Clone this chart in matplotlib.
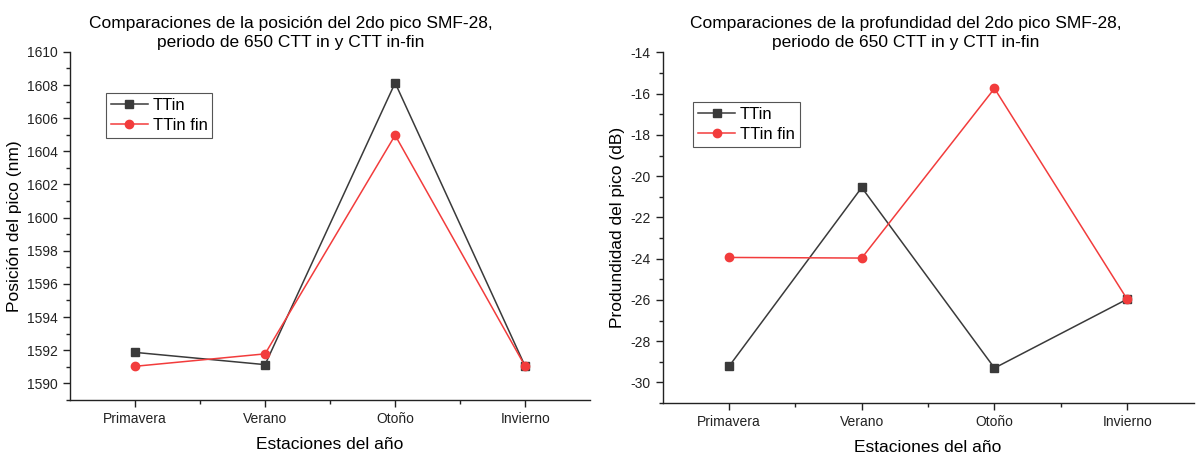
#  %%
import numpy as np
import matplotlib.pyplot as plt
from matplotlib.ticker import MultipleLocator, FixedLocator

plt.rcParams['font.family'] = ['Liberation Sans', 'DejaVu Sans']
plt.rcParams['axes.unicode_minus'] = False

# data
estaciones = ["Primavera", "Verano", "Otoño", "Invierno"]

posicion_ttin = [1591.87, 1591.13, 1608.13, 1591.03]
posicion_ttin_fin = [1591.03, 1591.78, 1604.97, 1591.03]

profundidad_ttin = [-29.22, -20.55, -29.30, -25.96]
profundidad_ttin_fin = [-23.94, -23.97, -15.75, -25.97]

color_ttin = "#3a3a3a"
color_fin = "#f23c3c"

#  %%
fig = plt.figure(figsize=(11.96, 4.55), dpi=100)
ax1 = fig.add_axes([0.0585, 0.121, 0.435, 0.765])
ax2 = fig.add_axes([0.554, 0.114, 0.444, 0.771])

x = np.arange(1, len(estaciones) + 1)


def style_axis(ax, ylim, ystep, ylabel):
    ax.set_xlim(0.5, 4.5)
    ax.set_ylim(*ylim)
    ax.set_xticks(x)
    ax.set_xticklabels(estaciones)
    ax.xaxis.set_minor_locator(FixedLocator([1.5, 2.5, 3.5]))
    ax.yaxis.set_major_locator(MultipleLocator(ystep))
    ax.yaxis.set_minor_locator(MultipleLocator(ystep / 2))
    ax.spines["top"].set_visible(False)
    ax.spines["right"].set_visible(False)
    for s in ("left", "bottom"):
        ax.spines[s].set_color("#222222")
        ax.spines[s].set_linewidth(1.0)
    ax.tick_params(which="major", direction="out", length=5, width=1, labelsize=10, colors="#222222")
    ax.tick_params(which="minor", direction="out", length=3, width=1, colors="#222222")
    ax.set_xlabel("Estaciones del año", fontsize=12.5, labelpad=8)
    ax.set_ylabel(ylabel, fontsize=12.5, labelpad=4)


ax1.plot(x, posicion_ttin, color=color_ttin, marker="s", markersize=5.5, linewidth=1.1, label="TTin")
ax1.plot(x, posicion_ttin_fin, color=color_fin, marker="o", markersize=6, linewidth=1.1, label="TTin fin")
style_axis(ax1, (1589, 1610), 2, "Posición del pico (nm)")

ax2.plot(x, profundidad_ttin, color=color_ttin, marker="s", markersize=5.5, linewidth=1.1, label="TTin")
ax2.plot(x, profundidad_ttin_fin, color=color_fin, marker="o", markersize=6, linewidth=1.1, label="TTin fin")
style_axis(ax2, (-31, -14), 2, "Produndidad del pico (dB)")

for ax, loc in ((ax1, (0.069, 0.882)), (ax2, (0.058, 0.858))):
    leg = ax.legend(loc="upper left", bbox_to_anchor=loc, fontsize=12, fancybox=False,
                    edgecolor="#555555", framealpha=1, handlelength=2.2,
                    borderpad=0.3, labelspacing=0.3, handletextpad=0.3, borderaxespad=0)
    leg.get_frame().set_linewidth(0.8)

fig.text(0.243, 0.965, "Comparaciones de la posición del 2do pico SMF-28,\nperiodo de 650 CTT in y CTT in-fin",
         ha="center", va="top", fontsize=12.5, linespacing=1.35)
fig.text(0.757, 0.965, "Comparaciones de la profundidad del 2do pico SMF-28,\nperiodo de 650 CTT in y CTT in-fin",
         ha="center", va="top", fontsize=12.5, linespacing=1.35)

fig.savefig("out.png", dpi=100)
